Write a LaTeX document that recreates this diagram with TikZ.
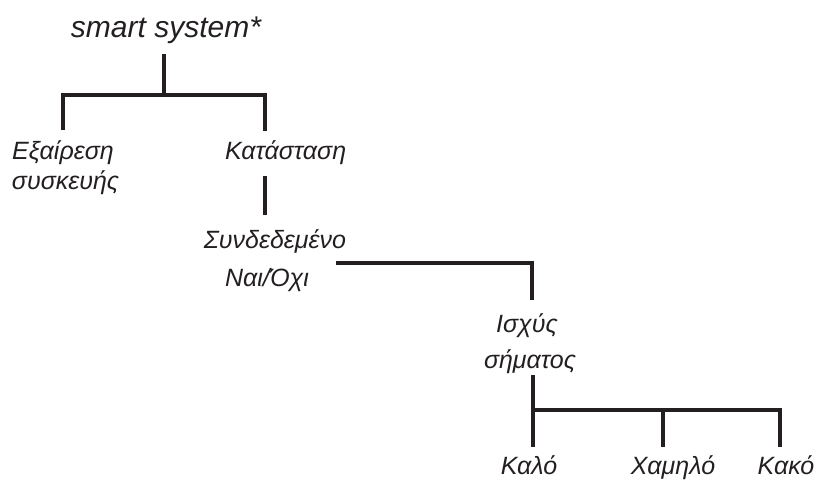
\documentclass[tikz,border=0pt]{standalone}
\usepackage{fontspec}
\setmainfont{Liberation Sans}
\usepackage{tikz}
\usetikzlibrary{calc}
\definecolor{myink}{RGB}{35,31,32}
\tikzset{
  lbl/.style={font=\fontsize{25}{30}\selectfont\itshape, text=myink,
    inner sep=0pt, outer sep=0pt},
  rootlbl/.style={lbl, font=\fontsize{30}{36}\selectfont\itshape},
  tree/.style={line width=3.2pt, color=myink}
}
\begin{document}
\begin{tikzpicture}[x=1pt, y=-1pt]
  \useasboundingbox (0,0) rectangle (820,480);

  % --- labels ---
  \node[rootlbl, anchor=base] (root) at (166,37) {smart system*};
  \node[lbl, anchor=base] (exc) at (63,159) {Εξαίρεση};
  \node[lbl, anchor=base west] (excb) at (12,189) {συσκευής};
  \node[lbl, anchor=base west] (kat) at (225,159) {Κατάσταση};
  \node[lbl, anchor=base] (syn) at (275,248) {Συνδεδεμένο};
  \node[lbl, anchor=base] (nai) at (267,286) {Ναι/Όχι};
  \node[lbl, anchor=base] (isx) at (527,332) {Ισχύς};
  \node[lbl, anchor=base] (sim) at (530,368) {σήματος};
  \node[lbl, anchor=base] (kalo) at (529,474) {Καλό};
  \node[lbl, anchor=base] (xam) at (673,474) {Χαμηλό};
  \node[lbl, anchor=base] (kako) at (786,474) {Κακό};

  % --- branch points ---
  \coordinate (j1) at (164,95);
  \coordinate (j2) at (532,263);
  \coordinate (j3) at (533,410);
  \coordinate (j4) at (663,410);
  \coordinate (j5) at (780,410);

  % --- top level ---
  \draw[tree, shorten <=11pt] (root.south -| j1) -- (j1);
  \draw[tree, shorten <=10pt, shorten >=9pt] (exc.north) |- (j1)
    -| ([xshift=40pt]kat.north west);
  \draw[tree, shorten <=12pt, shorten >=14pt] ([xshift=40pt]kat.south west)
    -- ([xshift=40pt]kat.south west |- syn.north);

  % --- connection status ---
  \draw[tree, shorten >=13pt] ([xshift=27pt]nai.north east |- j2) -- (j2)
    -- (j2 |- isx.north);

  % --- signal strength ---
  \draw[tree, shorten <=2pt, shorten >=8pt] (sim.south -| j3) -- (j3 |- kalo.north);
  \draw[tree, shorten >=8pt] (j3) -- (j5) -- (j5 |- kako.north);
  \draw[tree, shorten >=8pt] (j4) -- (j4 |- xam.north);
\end{tikzpicture}
\end{document}
